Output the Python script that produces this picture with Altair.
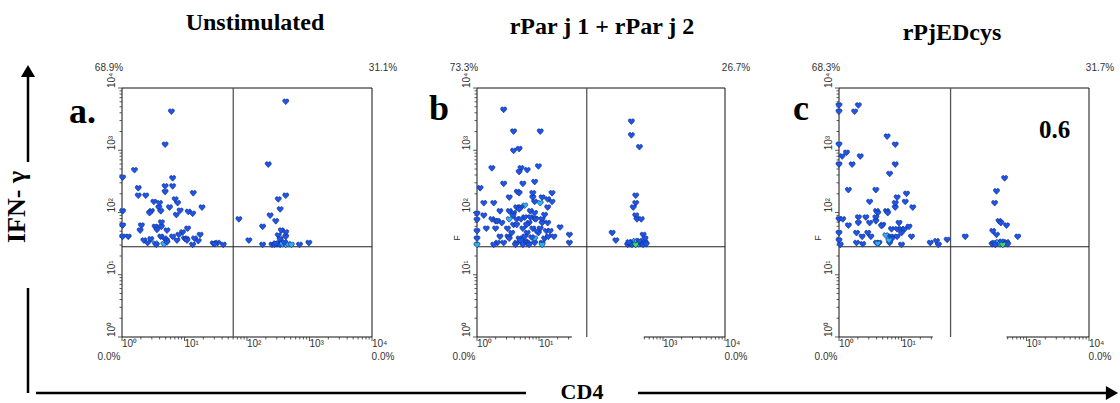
import altair as alt
import pandas as pd

# ---------------- data ----------------
TITLES = ["Unstimulated", "rPar j 1 + rPar j 2", "rPjEDcys"]
LETTERS = ["a.", "b", "c"]
# quadrant percentages: upper-left, upper-right, lower-left, lower-right
QUAD_PCT = [["68.9%", "31.1%", "0.0%", "0.0%"],
            ["73.3%", "26.7%", "0.0%", "0.0%"],
            ["68.3%", "31.7%", "0.0%", "0.0%"]]
NOTE_C = "0.6"
X_TITLE = "CD4"
Y_TITLE = "IFN- \u03b3"
# decade tick labels
DECADES = [1, 10, 100, 1000, 10000]
DECADE_LABELS = ["10\u2070", "10\u00b9", "10\u00b2", "10\u00b3", "10\u2074"]
# quadrant gates, in decades (log10 of fluorescence)
GATE_CD4 = [1.78, 1.77, 1.785]
GATE_IFN = [1.45, 1.45, 1.45]

# events: (CD4 decade, IFN-g decade, density level b=blue c=cyan g=green)
PTS_A = [
    (0.79, 3.62, "b"), (0.69, 3.09, "b"), (0.20, 2.68, "b"), (0.01, 2.56, "b"), (0.81, 2.55, "b"),
    (0.26, 2.39, "b"), (0.69, 2.42, "b"), (0.81, 2.42, "b"), (0.69, 2.33, "b"), (1.14, 2.31, "b"),
    (0.26, 2.27, "b"), (0.38, 2.27, "b"), (0.85, 2.21, "b"), (0.51, 2.17, "b"), (0.89, 2.15, "b"),
    (0.60, 2.15, "b"), (0.59, 2.08, "b"), (0.76, 2.08, "b"), (1.28, 2.08, "b"), (0.47, 2.02, "b"),
    (0.62, 2.02, "b"), (0.93, 2.03, "b"), (0.87, 1.96, "b"), (1.06, 2.01, "b"), (1.13, 1.98, "b"),
    (0.44, 1.99, "b"), (0.01, 2.02, "b"), (0.63, 1.84, "b"), (0.31, 1.79, "b"), (0.01, 1.79, "b"),
    (0.63, 1.77, "b"), (0.53, 1.77, "b"), (1.05, 1.74, "b"), (0.29, 1.71, "b"), (0.56, 1.72, "b"),
    (0.72, 1.71, "b"), (0.97, 1.68, "b"), (1.25, 1.64, "b"), (0.91, 1.64, "b"), (0.01, 1.61, "b"),
    (0.10, 1.61, "b"), (0.62, 1.61, "b"), (0.81, 1.61, "b"), (1.00, 1.58, "b"), (1.16, 1.58, "b"),
    (0.35, 1.55, "b"), (0.46, 1.57, "b"), (0.68, 1.58, "b"), (0.71, 1.55, "b"), (0.88, 1.55, "b"),
    (0.41, 1.51, "b"), (0.53, 1.50, "c"), (0.55, 1.48, "b"), (0.67, 1.49, "c"), (0.72, 1.52, "b"),
    (1.13, 1.48, "b"), (1.22, 1.54, "b"), (1.46, 1.50, "b"), (1.53, 1.51, "b"), (1.62, 1.48, "b"),
    (1.03, 1.57, "b"), (1.04, 1.55, "b"), (1.48, 1.49, "b"),
    (2.62, 3.78, "b"), (2.34, 2.77, "b"), (2.62, 2.27, "b"), (2.50, 2.21, "b"), (2.53, 2.05, "b"),
    (1.87, 1.89, "b"), (2.37, 1.95, "b"), (2.46, 1.86, "b"), (2.25, 1.77, "b"), (2.55, 1.71, "b"),
    (2.62, 1.68, "b"), (2.62, 1.61, "b"), (2.50, 1.63, "b"), (2.53, 1.57, "b"), (2.03, 1.55, "b"),
    (2.25, 1.48, "b"), (2.40, 1.48, "b"), (2.44, 1.48, "b"), (2.48, 1.49, "b"), (2.51, 1.50, "b"),
    (2.53, 1.48, "b"), (2.57, 1.49, "c"), (2.62, 1.48, "c"), (2.66, 1.49, "c"), (2.71, 1.48, "c"),
    (2.84, 1.48, "b"), (2.99, 1.51, "b"), (2.60, 1.52, "b"), (2.46, 1.50, "b"),
]

PTS_B = [
    (0.43, 3.65, "b"), (0.59, 3.30, "b"), (1.02, 3.30, "b"), (0.68, 3.02, "b"), (0.59, 2.99, "b"),
    (0.24, 2.71, "b"), (0.99, 2.74, "b"), (0.71, 2.71, "b"), (0.68, 2.65, "b"), (0.81, 2.68, "b"),
    (0.43, 2.46, "b"), (0.93, 2.49, "b"), (0.74, 2.46, "b"), (0.05, 2.39, "b"), (0.65, 2.33, "b"),
    (0.68, 2.31, "b"), (0.90, 2.31, "b"), (1.21, 2.31, "b"), (0.52, 2.24, "b"), (0.90, 2.24, "b"),
    (1.05, 2.24, "b"), (0.93, 2.17, "b"), (1.14, 2.21, "b"), (1.21, 2.17, "b"), (0.11, 2.15, "b"),
    (0.27, 2.15, "b"), (1.02, 2.15, "c"), (0.77, 2.11, "c"), (0.64, 2.08, "b"), (0.71, 2.08, "b"),
    (0.68, 2.05, "b"), (1.14, 2.08, "b"), (0.37, 2.02, "b"), (0.52, 2.02, "b"), (0.59, 1.99, "b"),
    (0.86, 2.02, "b"), (0.93, 1.99, "b"), (1.09, 1.96, "b"), (0.00, 1.98, "b"), (0.11, 1.95, "b"),
    (0.58, 1.95, "b"), (0.77, 1.92, "b"), (0.86, 1.92, "b"), (0.93, 1.90, "b"), (0.95, 1.89, "b"),
    (1.05, 1.89, "b"), (0.24, 1.89, "b"), (0.30, 1.86, "b"), (0.33, 1.86, "b"), (0.52, 1.89, "c"),
    (0.64, 1.89, "b"), (0.71, 1.89, "b"), (0.40, 1.83, "b"), (0.00, 1.88, "b"), (0.59, 1.80, "b"),
    (0.64, 1.80, "b"), (0.84, 1.83, "b"), (1.05, 1.83, "b"), (1.14, 1.83, "b"), (1.34, 1.76, "b"),
    (0.15, 1.74, "b"), (0.30, 1.74, "b"), (0.49, 1.74, "b"), (0.74, 1.74, "b"), (0.90, 1.74, "b"),
    (1.02, 1.74, "b"), (1.12, 1.70, "b"), (1.18, 1.70, "b"), (0.00, 1.70, "b"), (0.56, 1.67, "b"),
    (0.81, 1.67, "b"), (0.99, 1.67, "b"), (0.37, 1.61, "b"), (0.50, 1.61, "b"), (0.52, 1.58, "b"),
    (0.68, 1.58, "b"), (0.77, 1.61, "b"), (0.93, 1.58, "c"), (1.09, 1.58, "b"), (1.15, 1.61, "b"),
    (1.24, 1.61, "b"), (1.49, 1.64, "b"), (0.00, 1.58, "b"), (0.33, 1.51, "b"), (0.43, 1.51, "b"),
    (0.64, 1.51, "b"), (0.78, 1.53, "b"), (0.81, 1.51, "b"), (0.93, 1.51, "b"), (1.05, 1.51, "b"),
    (1.49, 1.51, "b"), (0.00, 1.48, "c"), (0.27, 1.48, "b"), (0.62, 1.48, "b"), (0.74, 1.48, "b"),
    (0.84, 1.48, "b"), (1.05, 1.48, "c"), (0.70, 1.55, "b"), (0.88, 1.60, "b"), (0.96, 1.70, "b"),
    (0.80, 1.80, "b"),
    (2.49, 3.46, "b"), (2.49, 3.24, "b"), (2.62, 3.05, "b"), (2.56, 2.27, "b"), (2.56, 2.15, "b"),
    (2.52, 2.08, "b"), (2.56, 1.95, "b"), (2.58, 1.89, "b"), (2.65, 1.89, "b"), (2.18, 1.67, "b"),
    (2.68, 1.64, "b"), (2.71, 1.58, "b"), (2.24, 1.55, "b"), (2.43, 1.48, "b"), (2.47, 1.49, "b"),
    (2.50, 1.52, "c"), (2.53, 1.50, "c"), (2.50, 1.48, "b"), (2.55, 1.54, "c"), (2.58, 1.52, "c"),
    (2.61, 1.49, "c"), (2.64, 1.50, "b"), (2.62, 1.54, "b"), (2.68, 1.48, "b"), (2.71, 1.52, "b"),
    (2.73, 1.49, "b"), (2.45, 1.52, "b"), (2.56, 1.48, "g"),
]

PTS_C = [
    (0.00, 3.72, "b"), (0.00, 3.62, "b"), (0.31, 3.72, "b"), (0.25, 3.62, "b"), (0.00, 3.09, "b"),
    (0.12, 2.96, "b"), (0.05, 2.90, "b"), (0.34, 2.90, "b"), (0.00, 2.77, "b"), (0.21, 2.77, "b"),
    (0.77, 3.22, "b"), (0.90, 3.09, "b"), (0.90, 2.77, "b"), (0.81, 2.62, "b"), (0.15, 2.36, "b"),
    (0.59, 2.36, "b"), (1.08, 2.30, "b"), (0.93, 2.24, "b"), (0.49, 2.17, "b"), (0.90, 2.15, "b"),
    (1.06, 2.17, "b"), (0.90, 2.08, "b"), (1.18, 2.08, "b"), (0.60, 2.02, "b"), (0.62, 1.99, "b"),
    (0.76, 2.02, "b"), (0.78, 1.99, "b"), (0.59, 1.92, "b"), (0.00, 1.89, "b"), (0.06, 1.89, "b"),
    (0.31, 1.92, "b"), (0.43, 1.92, "b"), (0.31, 1.83, "b"), (0.15, 1.79, "b"), (0.49, 1.83, "b"),
    (0.59, 1.86, "b"), (0.70, 1.80, "b"), (0.68, 1.78, "b"), (0.96, 1.83, "b"), (0.84, 1.73, "b"),
    (0.93, 1.73, "b"), (1.00, 1.73, "b"), (1.05, 1.73, "b"), (1.12, 1.77, "b"), (0.00, 1.67, "b"),
    (0.28, 1.67, "b"), (0.46, 1.67, "b"), (0.37, 1.61, "b"), (0.51, 1.61, "b"), (0.75, 1.63, "c"),
    (0.83, 1.61, "b"), (0.85, 1.58, "b"), (0.93, 1.61, "b"), (1.00, 1.67, "b"), (1.16, 1.61, "b"),
    (0.00, 1.55, "b"), (0.02, 1.48, "b"), (0.28, 1.51, "b"), (0.38, 1.49, "b"), (0.60, 1.51, "b"),
    (0.64, 1.51, "b"), (0.81, 1.51, "b"), (1.00, 1.48, "b"), (1.46, 1.51, "b"), (1.56, 1.54, "b"),
    (1.59, 1.48, "b"), (1.73, 1.56, "b"), (0.80, 1.55, "c"), (0.62, 1.50, "c"),
    (2.65, 2.55, "b"), (2.52, 2.34, "b"), (2.49, 2.15, "b"), (2.56, 1.86, "b"), (2.59, 1.83, "b"),
    (2.68, 1.79, "b"), (2.46, 1.70, "b"), (2.52, 1.64, "b"), (2.02, 1.61, "b"), (2.86, 1.61, "b"),
    (2.45, 1.49, "b"), (2.48, 1.51, "b"), (2.52, 1.50, "c"), (2.55, 1.52, "c"), (2.58, 1.49, "c"),
    (2.65, 1.50, "c"), (2.68, 1.52, "b"), (2.70, 1.49, "b"), (2.60, 1.53, "b"), (2.50, 1.48, "b"),
    (2.62, 1.48, "g"),
]
PANEL_POINTS = [PTS_A, PTS_B, PTS_C]
# part of the CD4 axis hidden in panels b and c (decades)
AXIS_GAP = [None, (1.53, 2.69), (1.50, 2.68)]

# ---------------- layout / style ----------------
W, H = 1120, 403
PANEL_X = [(122, 372), (477, 725), (839, 1089)]
Y_BOT, Y_TOP = 337, 88
SANS = "Liberation Sans"
SERIF = "Liberation Serif"
LEV_DOMAIN = ["b", "c", "g"]
LEV_RANGE = ["#1d54ea", "#2cb4f0", "#3ee05a"]
HEART = ("M0,0.95L-0.85,0.05C-1.2,-0.35,-0.8,-1,-0.35,-0.88C-0.15,-0.8,0,-0.62,0,-0.55"
         "C0,-0.62,0.15,-0.8,0.35,-0.88C0.8,-1,1.2,-0.35,0.85,0.05Z")
MINOR = [m * 10 ** k for k in range(4) for m in range(2, 10)]

ONE = alt.Data(values=[{}])


def panel(i):
    x0, x1 = PANEL_X[i]
    xs = alt.Scale(type="log", domain=[1, 10000], range=[x0, x1])
    ys = alt.Scale(type="log", domain=[1, 10000], range=[Y_BOT, Y_TOP])
    gap = AXIS_GAP[i]

    def keep(v):
        return gap is None or not (10 ** gap[0] < v < 10 ** gap[1])

    X = lambda f: alt.X(f, scale=xs, axis=None)
    Y = lambda f: alt.Y(f, scale=ys, axis=None)

    df = pd.DataFrame(PANEL_POINTS[i], columns=["lcd4", "lifn", "lev"])
    df["cd4"] = 10 ** df["lcd4"]
    df["ifn"] = 10 ** df["lifn"]

    segs = [(1, 10000, 10000, 10000), (10000, 10000, 1, 10000), (1, 1, 1, 10000)]
    if gap is None:
        segs.append((1, 10000, 1, 1))
    else:
        segs.append((1, 10 ** gap[0], 1, 1))
        segs.append((10 ** gap[1], 10000, 1, 1))
    frame = alt.Chart(pd.DataFrame(segs, columns=["x", "x2", "y", "y2"])).mark_rule(
        color="#111", strokeWidth=1).encode(x=X("x:Q"), x2="x2:Q", y=Y("y:Q"), y2="y2:Q")

    gx = 10 ** GATE_CD4[i]
    gy = 10 ** GATE_IFN[i]
    vgate = alt.Chart(pd.DataFrame({"x": [gx], "y": [1], "y2": [10000]})).mark_rule(
        color="#555", strokeWidth=1.3).encode(x=X("x:Q"), y=Y("y:Q"), y2="y2:Q")
    hgate = alt.Chart(pd.DataFrame({"x": [1], "x2": [10000], "y": [gy]})).mark_rule(
        color="#222", strokeWidth=1.2).encode(x=X("x:Q"), x2="x2:Q", y=Y("y:Q"))

    # ticks along the CD4 axis
    xmaj = pd.DataFrame({"v": [v for v in DECADES if keep(v)]})
    xmin = pd.DataFrame({"v": [v for v in MINOR if keep(v)]})
    xlab = pd.DataFrame({"v": [v for v in DECADES if keep(v)],
                         "t": [t for v, t in zip(DECADES, DECADE_LABELS) if keep(v)]})
    xt1 = alt.Chart(xmaj).mark_rule(color="#333", strokeWidth=0.8).encode(
        x=X("v:Q"), y=alt.value(Y_BOT), y2=alt.value(Y_BOT + 4))
    xt2 = alt.Chart(xmin).mark_rule(color="#333", strokeWidth=0.8).encode(
        x=X("v:Q"), y=alt.value(Y_BOT), y2=alt.value(Y_BOT + 2.5))
    xl = alt.Chart(xlab).mark_text(align="left", baseline="top", font=SANS, fontSize=10,
                                   color="#333").encode(x=X("v:Q"), y=alt.value(Y_BOT + 1.5),
                                                        text="t:N")
    # ticks along the IFN-g axis
    yt1 = alt.Chart(pd.DataFrame({"v": DECADES})).mark_rule(color="#333", strokeWidth=0.8).encode(
        y=Y("v:Q"), x=alt.value(x0 - 4), x2=alt.value(x0))
    yt2 = alt.Chart(pd.DataFrame({"v": MINOR})).mark_rule(color="#333", strokeWidth=0.8).encode(
        y=Y("v:Q"), x=alt.value(x0 - 2.5), x2=alt.value(x0))
    yl = alt.Chart(pd.DataFrame({"v": DECADES, "t": DECADE_LABELS})).mark_text(
        align="left", baseline="bottom", angle=270, font=SANS, fontSize=10, color="#333").encode(
        y=Y("v:Q"), x=alt.value(x0 - 5), text="t:N")

    pts = alt.Chart(df).mark_point(filled=True, shape=HEART, size=38, stroke="#12308a",
                                   strokeWidth=0.7, opacity=1).encode(
        x=X("cd4:Q"), y=Y("ifn:Q"),
        color=alt.Color("lev:N", scale=alt.Scale(domain=LEV_DOMAIN, range=LEV_RANGE), legend=None))
    return alt.layer(frame, vgate, hgate, xt1, xt2, xl, yt1, yt2, yl, pts)


def text(t, x, y, size, font=SANS, weight="normal", align="center", baseline="alphabetic",
         angle=0, color="#000"):
    kw = dict(text=t, fontSize=size, font=font, fontWeight=weight, align=align,
              baseline=baseline, color=color)
    if angle:
        kw["angle"] = angle
    return alt.Chart(ONE).mark_text(**kw).encode(x=alt.value(x), y=alt.value(y))


def rule(x, y, x2=None, y2=None, w=2.5):
    enc = dict(x=alt.value(x), y=alt.value(y))
    if x2 is not None:
        enc["x2"] = alt.value(x2)
    if y2 is not None:
        enc["y2"] = alt.value(y2)
    return alt.Chart(ONE).mark_rule(color="#000", strokeWidth=w).encode(**enc)


def head(x, y, shape):
    return alt.Chart(ONE).mark_point(shape=shape, filled=True, color="#000", size=200,
                                     opacity=1).encode(x=alt.value(x), y=alt.value(y))


layers = [panel(0), panel(1), panel(2)]

# titles
TITLE_POS = [(255, 30), (602, 34), (952, 40)]
for t, (x, y) in zip(TITLES, TITLE_POS):
    layers.append(text(t, x, y, 24, font=SERIF, weight="bold"))
# panel letters
LETTER_POS = [(69, 123), (429, 120), (793, 120)]
for t, (x, y) in zip(LETTERS, LETTER_POS):
    layers.append(text(t, x, y, 36, font=SERIF, weight="bold", align="left"))
layers.append(text(NOTE_C, 1039, 138, 25, font=SERIF, weight="bold", align="left"))
# quadrant percentages
for i, (x0, x1) in enumerate(PANEL_X):
    ul, ur, ll, lr = QUAD_PCT[i]
    layers.append(text(ul, x0 - 13, 71, 10, color="#333"))
    layers.append(text(ur, x1 + 11, 71, 10, color="#333"))
    layers.append(text(ll, x0 - 13, 360, 10, color="#333"))
    layers.append(text(lr, x1 + 11, 360, 10, color="#333"))
# small stray label on y axis of b and c
for x in (457, 818):
    layers.append(text("F", x, 238, 9, angle=270, baseline="middle", color="#333"))

# outer axis arrows and titles
layers.append(rule(28, 77, y2=162))
layers.append(head(28, 71, "triangle-up"))
layers.append(rule(28, 288, y2=393))
layers.append(text(Y_TITLE, 25, 207, 26, font=SERIF, weight="bold", angle=270))
layers.append(rule(36, 393, x2=526))
layers.append(rule(638, 393, x2=1106))
layers.append(head(1112, 393, "triangle-right"))
layers.append(text(X_TITLE, 582, 399, 22, font=SERIF, weight="bold"))

chart = alt.layer(*layers).resolve_scale(x="independent", y="independent").properties(
    width=W, height=H, padding=0, autosize=alt.AutoSizeParams(type="none"),
    background="white").configure_view(strokeWidth=0)

chart.save("out.html", embed_options={"renderer": "svg", "actions": False})
